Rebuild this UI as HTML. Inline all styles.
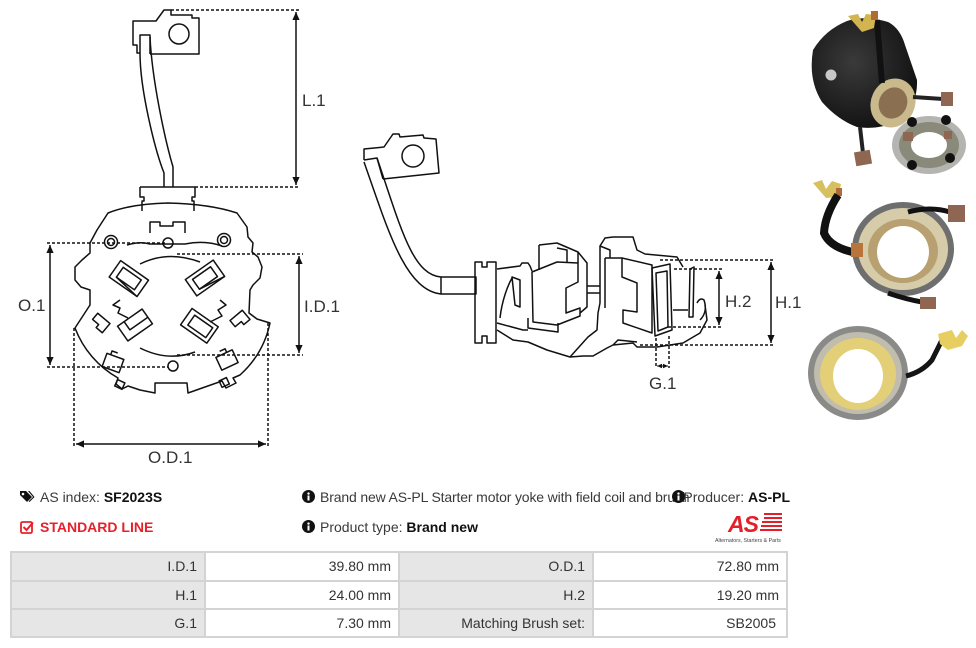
<!DOCTYPE html>
<html><head><meta charset="utf-8"><style>
html,body{margin:0;padding:0;background:#fff;}
body{width:976px;height:648px;position:relative;overflow:hidden;font-family:"Liberation Sans",Arial,sans-serif;color:#333;}
.t{position:absolute;font-size:14px;white-space:nowrap;line-height:16px;color:#3a3a3a;}
.t b{color:#111;}
#tbl{position:absolute;left:10px;top:551px;width:778px;height:87px;background:#d3d3d3;}
.c{position:absolute;box-sizing:border-box;text-align:right;padding-right:7px;font-size:14px;color:#333;}
.g{background:#e6e6e6;}
.w{background:#fff;}
</style></head><body>
<svg width="976" height="480" viewBox="0 0 976 480" style="position:absolute;left:0;top:0">
<defs>
<marker id="ar" viewBox="0 0 10 10" refX="10" refY="5" markerWidth="9" markerHeight="8" markerUnits="userSpaceOnUse" orient="auto-start-reverse"><path d="M0,0.5 L10,5 L0,9.5 z" fill="#111"/></marker>
<marker id="as" viewBox="0 0 10 10" refX="10" refY="5" markerWidth="5" markerHeight="5" markerUnits="userSpaceOnUse" orient="auto-start-reverse"><path d="M0,0.5 L10,5 L0,9.5 z" fill="#111"/></marker>
<radialGradient id="cyl" cx="0.4" cy="0.4" r="0.7"><stop offset="0" stop-color="#3a3a3a"/><stop offset="1" stop-color="#0e0e0e"/></radialGradient>
</defs>

<!-- ===== LEFT DRAWING ===== -->
<g stroke="#111" stroke-width="1.5" fill="none" stroke-linejoin="round">
<!-- terminal -->
<path d="M150,54 L199,54 L199,18 L192,18 L192,15 L171,15 L171,10 L164,10 L156,21 L133,21 L133,45 L137,45 L137,53 L140,53"/>
<path d="M140,53 L140,35 L150,35 L150,54"/>
<circle cx="179" cy="34" r="10"/>
<!-- wire -->
<path d="M140,53 C140,90 155,150 164,173 L164,187"/>
<path d="M150,37 C152,80 165,140 173,167 L173,187"/>
<!-- connector -->
<path d="M140,187 L195,187 L195,197 L192,197 L192,201 L194,201 L194,211"/>
<path d="M140,187 L140,197 L144,197 L144,201 L142,201 L142,211"/>
<!-- body outer -->
<path d="M108,213 Q130,204 168,203 Q210,204 237,213 L247,227 L248,237 L253,243 L252,252 L258,257 L262,267 L260,278 L253,285 L250,290 L249,313 L257,319 L270,323
A97,97 0 0 1 240,375 L233,378 L236,383 L226,388 L222,381 L205,387 L188,393 L187,383 L155,383 L155,393 L140,390 L128,386 L122,389 L116,384 L118,378
A97,97 0 0 1 75,328 L90,305 L90,290 L81,287 L75,280 L75,267 L82,260 L90,253 L90,243 L97,230 Z"/>
<!-- top tab -->
<path d="M150,233 L150,222 L160,222 L160,226 L173,226 L173,222 L185,222 L185,233"/>
<path d="M127,245 Q140,241 150,244 L185,244 Q205,240 222,246"/>
<circle cx="168" cy="243" r="5"/>
<circle cx="173" cy="366" r="5"/>
<circle cx="111" cy="242" r="6.5"/><circle cx="111" cy="242" r="3.5"/>
<circle cx="224" cy="240" r="6.5"/><circle cx="224" cy="240" r="3.5"/>
<!-- inner circle -->
<path d="M140,264 Q168,250 200,262"/>
<path d="M120,300 L113,305 L120,308 L118,313 L128,318"/>
<path d="M220,300 L226,305 L218,310 L222,316 L210,322"/>
<path d="M140,348 Q168,362 195,352"/>
<!-- brush boxes -->
<g transform="rotate(35 128 278)"><rect x="112" y="268" width="34" height="20"/><rect x="118" y="272" width="22" height="12"/><path d="M118,284 L146,288"/></g>
<g transform="rotate(-35 205 278)"><rect x="188" y="268" width="34" height="20"/><rect x="194" y="272" width="22" height="12"/><path d="M194,284 L222,288"/></g>
<g transform="rotate(-35 135 325)"><rect x="120" y="316" width="30" height="18"/><path d="M128,316 L128,326 L150,326"/></g>
<g transform="rotate(35 200 325)"><rect x="184" y="316" width="32" height="20"/><rect x="190" y="320" width="22" height="12"/></g>
<!-- small tabs -->
<g transform="rotate(40 100 323)"><path d="M92,317 L108,317 L108,329 L100,329 L100,325 L92,325 Z"/></g>
<g transform="rotate(-40 240 320)"><path d="M232,314 L248,314 L248,326 L240,326 L240,322 L232,322 Z"/></g>
<g transform="rotate(20 113 363)"><path d="M104,356 L122,356 L122,370 L104,370 Z M108,356 L108,352 L114,352"/></g>
<g transform="rotate(-25 227 360)"><path d="M218,353 L236,353 L236,367 L218,367 Z M230,353 L230,349 L224,349"/></g>
<rect x="116" y="381" width="8" height="7" transform="rotate(25 120 384)"/>
<rect x="220" y="379" width="8" height="7" transform="rotate(-25 224 382)"/>
</g>
<!-- left dims -->
<g stroke="#111" stroke-width="1.5" fill="none">
<path d="M171,10 L299,10 M195,187 L299,187" stroke-dasharray="3,2"/>
<path d="M296,12 L296,185" marker-start="url(#ar)" marker-end="url(#ar)"/>
<path d="M47,243 L165,243 M47,367 L168,367" stroke-dasharray="3,2"/>
<path d="M50,245 L50,365" marker-start="url(#ar)" marker-end="url(#ar)"/>
<path d="M177,254 L303,254 M177,355 L303,355" stroke-dasharray="3,2"/>
<path d="M299,256 L299,353" marker-start="url(#ar)" marker-end="url(#ar)"/>
<path d="M74,328 L74,448 M268,323 L268,448" stroke-dasharray="3,2"/>
<path d="M76,444 L266,444" marker-start="url(#ar)" marker-end="url(#ar)"/>
</g>
<g font-family="Liberation Sans, Arial, sans-serif" font-size="17" fill="#333">
<text x="302" y="106">L.1</text>
<text x="18" y="311">O.1</text>
<text x="304" y="312">I.D.1</text>
<text x="148" y="463">O.D.1</text>
<text x="725" y="307">H.2</text>
<text x="775" y="308">H.1</text>
<text x="649" y="389">G.1</text>
</g>

<!-- ===== MIDDLE DRAWING ===== -->
<g stroke="#111" stroke-width="1.5" fill="none" stroke-linejoin="round">
<path d="M364,160 L364,149 L384,147 L393,134 L399,134 L400,137 L423,135 L424,138 L436,139 L439,173 L383,179"/>
<circle cx="413" cy="156" r="11"/>
<path d="M364,160 L377,158 L383,179"/>
<path d="M364,162 C388,230 405,290 441,294"/>
<path d="M377,158 C400,225 412,275 441,277"/>
<rect x="441" y="277" width="35" height="17"/>
<path d="M475,262 L482,262 L482,267 L487,267 L487,262 L496,262 L496,343 L487,343 L487,336 L482,336 L482,343 L475,343 Z"/>
<!-- body top left -->
<path d="M497,269 L520,266 L522,263 L528,263 L530,266 L532,271"/>
<!-- left slot -->
<path d="M512,277 L520,280 L520,307 L515,305 Z"/>
<path d="M500,318 C502,300 508,285 512,278"/>
<!-- left box -->
<path d="M532,272 L557,262 L578,263 L578,282 L566,288 L566,313 L580,308 L580,316 L557,325 L533,322 Z"/>
<path d="M539,245 L557,243 L578,252 L578,263"/>
<path d="M539,245 L539,270"/>
<path d="M557,248 L567,250 L567,262"/>
<path d="M578,252 L587,263 L587,307 L580,313"/>
<path d="M528,318 L528,328 L558,332 L558,323"/>
<path d="M497,323 L523,330 L528,330"/>
<!-- middle bar -->
<path d="M587,286 L600,286 M587,293 L600,293"/>
<!-- right box -->
<path d="M600,303 L600,246 L605,238 L613,237 L633,237 L637,250 L645,254 L677,257 L683,267"/>
<path d="M600,246 L610,250 L610,258"/>
<path d="M605,258 L622,258 L652,265 L652,333 L623,323 L623,310 L637,312 L637,283 L622,277 L622,258"/>
<path d="M605,258 L605,308"/>
<path d="M652,268 L670,264 L672,330 L655,336 Z"/>
<path d="M656,273 L667,271 L668,327 L658,331 Z"/>
<!-- hook -->
<path d="M690,269 L694,267 L693,317 L689,317 Z"/>
<path d="M673,310 L688,310"/>
<path d="M697,303 Q700,297 704,300 Q708,312 700,320"/>
<!-- bottom wave -->
<path d="M497,330 L513,340 L528,342 L547,350 L570,357 L583,356 L593,356 L607,348 L613,345 L633,343 L637,347 L657,347 L683,343 L700,333 L707,320 L705,305"/>
<path d="M570,357 L588,337 L597,330 L598,313 L600,303"/>
<path d="M613,345 L618,340 L637,342"/>
</g>
<!-- middle dims -->
<g stroke="#111" stroke-width="1.5" fill="none">
<path d="M660,260 L773,260 M640,345 L773,345" stroke-dasharray="3,2"/>
<path d="M771,262 L771,343" marker-start="url(#ar)" marker-end="url(#ar)"/>
<path d="M674,269 L722,269 M668,327 L722,327" stroke-dasharray="3,2"/>
<path d="M719,271 L719,325" marker-start="url(#ar)" marker-end="url(#ar)"/>
<path d="M656,338 L656,368 M669,336 L669,368" stroke-dasharray="3,2"/>
<path d="M657,366 L668,366" stroke-width="1" marker-start="url(#as)" marker-end="url(#as)"/>
</g>

<!-- ===== PHOTOS ===== -->
<!-- photo 1 -->
<g>
<path d="M813,50 Q825,30 847,21 Q865,15 888,22 Q900,28 905,45 L917,80 Q918,110 893,123 Q875,130 857,127 Q838,120 822,102 Q808,80 813,50 Z" fill="url(#cyl)"/>
<ellipse cx="893" cy="103" rx="22" ry="25" transform="rotate(25 893 103)" fill="#c9b98c"/>
<ellipse cx="893" cy="103" rx="14" ry="16" transform="rotate(25 893 103)" fill="#8a7050"/>
<circle cx="831" cy="75" r="5.5" fill="#c8c8c8"/>
<path d="M877,20 L882,83" stroke="#111" stroke-width="6"/>
<path d="M848,16 L858,14 L862,22 L866,14 L876,15 L874,28 L862,32 Z" fill="#d2b450"/>
<rect x="871" y="11" width="7" height="9" fill="#b06a35"/>
<path d="M860,127 L863,153" stroke="#222" stroke-width="4"/>
<rect x="855" y="151" width="16" height="14" fill="#8f6652" transform="rotate(-10 863 158)"/>
<path d="M913,97 L943,99" stroke="#222" stroke-width="4"/>
<rect x="941" y="92" width="12" height="14" fill="#8f6652"/>
<ellipse cx="929" cy="145" rx="37" ry="29" fill="#b4b4b0"/>
<ellipse cx="929" cy="145" rx="30" ry="23" fill="#8a8a7a"/>
<ellipse cx="929" cy="145" rx="18" ry="13" fill="#fff"/>
<circle cx="912" cy="122" r="5" fill="#111"/><circle cx="946" cy="120" r="5" fill="#111"/>
<circle cx="912" cy="165" r="5" fill="#111"/><circle cx="950" cy="158" r="5" fill="#111"/>
<rect x="903" y="132" width="10" height="9" fill="#8f6652"/>
<rect x="944" y="131" width="8" height="8" fill="#8f6652"/>
</g>
<!-- photo 2 -->
<g>
<path d="M813,183 L822,180 L826,189 L832,181 L841,184 L838,197 L826,198 Z" fill="#d6c060"/>
<rect x="836" y="188" width="6" height="8" fill="#b06a35"/>
<ellipse cx="903" cy="249" rx="51" ry="47" fill="#6e6e6e"/>
<ellipse cx="903" cy="249" rx="45" ry="41" fill="#d6ccaa"/>
<ellipse cx="903" cy="251" rx="35" ry="32" fill="#b8a070"/>
<ellipse cx="903" cy="252" rx="26" ry="26" fill="#fff"/>
<path d="M838,195 Q825,215 824,233 Q830,248 857,253" stroke="#111" stroke-width="8" fill="none"/>
<rect x="851" y="243" width="12" height="14" fill="#b8743a"/>
<path d="M908,212 Q930,206 950,212" stroke="#111" stroke-width="5" fill="none"/>
<rect x="948" y="205" width="17" height="17" fill="#8f6652"/>
<path d="M888,293 Q905,299 922,302" stroke="#111" stroke-width="5" fill="none"/>
<rect x="920" y="297" width="16" height="12" fill="#8f6652"/>
</g>
<!-- photo 3 -->
<g>
<ellipse cx="858" cy="373" rx="50" ry="47" fill="#8a8a88"/>
<ellipse cx="858" cy="373" rx="44" ry="41" fill="#c0bcae"/>
<ellipse cx="858" cy="374" rx="38" ry="36" fill="#e2cf78"/>
<ellipse cx="858" cy="376" rx="25" ry="27" fill="#fff"/>
<path d="M906,376 Q922,372 932,360 Q938,348 942,340" stroke="#151515" stroke-width="5" fill="none"/>
<path d="M938,334 L952,330 L956,338 L962,330 L968,336 L962,346 L948,350 L940,344 Z" fill="#e6cf60"/>
</g>
</svg>

<!-- ===== INFO ===== -->
<svg style="position:absolute;left:19px;top:490px" width="16" height="14" viewBox="0 0 16 14">
<path d="M1,1 L7,1 L13,7 L8,12 L1,5 Z" fill="#111"/><circle cx="4" cy="4" r="1.3" fill="#fff"/>
<path d="M9,1 L10.5,1 L15.5,7 L10.5,12 L9.7,11.2 L14,7 Z" fill="#111"/>
</svg>
<div class="t" style="left:40px;top:489px">AS index: <b>SF2023S</b></div>
<svg style="position:absolute;left:20px;top:520px" width="14" height="14" viewBox="0 0 14 14">
<rect x="1" y="2" width="11" height="11" rx="1.5" fill="none" stroke="#e8202a" stroke-width="1.8"/>
<path d="M3.5,7 L6.5,10 L13,2.5" fill="none" stroke="#e8202a" stroke-width="2"/>
</svg>
<div class="t" style="left:40px;top:519px;color:#e8202a;font-weight:bold">STANDARD LINE</div>

<svg style="position:absolute;left:302px;top:490px" width="13" height="13" viewBox="0 0 13 13"><circle cx="6.5" cy="6.5" r="6.5" fill="#111"/><rect x="5.5" y="5.5" width="2" height="5" fill="#fff"/><circle cx="6.5" cy="3.6" r="1.2" fill="#fff"/></svg>
<div class="t" style="left:320px;top:489px;letter-spacing:-0.15px">Brand new AS-PL Starter motor yoke with field coil and brush</div>
<svg style="position:absolute;left:302px;top:520px" width="13" height="13" viewBox="0 0 13 13"><circle cx="6.5" cy="6.5" r="6.5" fill="#111"/><rect x="5.5" y="5.5" width="2" height="5" fill="#fff"/><circle cx="6.5" cy="3.6" r="1.2" fill="#fff"/></svg>
<div class="t" style="left:320px;top:519px">Product type: <b>Brand new</b></div>

<svg style="position:absolute;left:672px;top:490px" width="13" height="13" viewBox="0 0 13 13"><circle cx="6.5" cy="6.5" r="6.5" fill="#111"/><rect x="5.5" y="5.5" width="2" height="5" fill="#fff"/><circle cx="6.5" cy="3.6" r="1.2" fill="#fff"/></svg>
<div class="t" style="right:186px;top:489px">Producer: <b>AS-PL</b></div>

<!-- logo -->
<svg style="position:absolute;left:714px;top:511px" width="78" height="34" viewBox="0 0 78 34">
<text x="14" y="21" font-family="Liberation Sans, Arial, sans-serif" font-size="23" font-weight="bold" font-style="italic" fill="#e3202a" letter-spacing="-1">AS</text>
<g fill="#e3202a"><rect x="50" y="2" width="18" height="2"/><rect x="50" y="6" width="18" height="2"/><rect x="48" y="10" width="20" height="2"/><rect x="47" y="14" width="21" height="2"/><rect x="46" y="18" width="22" height="2"/></g>
<text x="1" y="31" font-family="Liberation Sans, Arial, sans-serif" font-size="5.3" fill="#444">Alternators, Starters &amp; Parts</text>
</svg>

<!-- table -->
<div id="tbl">
<div class="c g" style="left:2px;top:2px;width:192px;height:27px;line-height:27px">I.D.1</div>
<div class="c w" style="left:196px;top:2px;width:192px;height:27px;line-height:27px">39.80 mm</div>
<div class="c g" style="left:390px;top:2px;width:192px;height:27px;line-height:27px">O.D.1</div>
<div class="c w" style="left:584px;top:2px;width:192px;height:27px;line-height:27px">72.80 mm</div>
<div class="c g" style="left:2px;top:31px;width:192px;height:26px;line-height:26px">H.1</div>
<div class="c w" style="left:196px;top:31px;width:192px;height:26px;line-height:26px">24.00 mm</div>
<div class="c g" style="left:390px;top:31px;width:192px;height:26px;line-height:26px">H.2</div>
<div class="c w" style="left:584px;top:31px;width:192px;height:26px;line-height:26px">19.20 mm</div>
<div class="c g" style="left:2px;top:59px;width:192px;height:26px;line-height:26px">G.1</div>
<div class="c w" style="left:196px;top:59px;width:192px;height:26px;line-height:26px">7.30 mm</div>
<div class="c g" style="left:390px;top:59px;width:192px;height:26px;line-height:26px">Matching Brush set:</div>
<div class="c w" style="left:584px;top:59px;width:192px;height:26px;line-height:26px;padding-right:10px">SB2005</div>
</div>
</body></html>
